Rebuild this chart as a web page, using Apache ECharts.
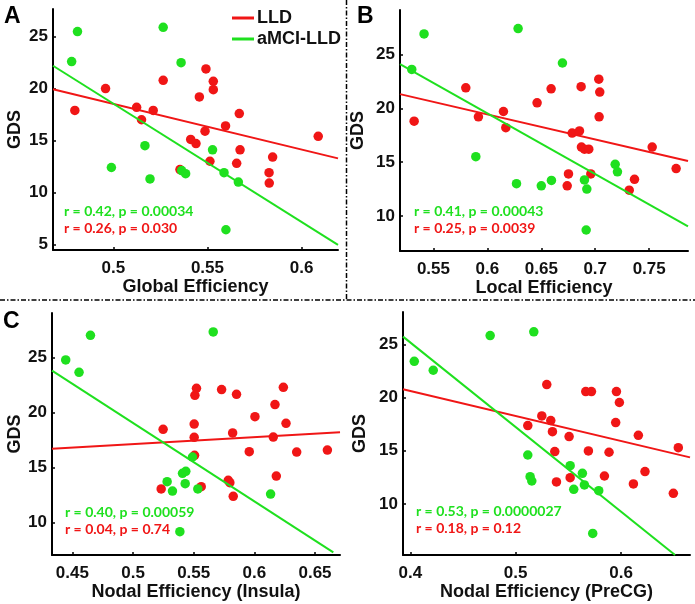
<!DOCTYPE html>
<html><head><meta charset="utf-8">
<script src="https://cdn.jsdelivr.net/npm/echarts@6/dist/echarts.min.js"></script>
<style>html,body{margin:0;padding:0;background:#fff}#c{width:695px;height:604px}</style>
</head><body><div id="c"></div>
<script>
// ---- Panel A: Global Efficiency ----
const A_lldX = [0.4796,0.4959,0.5124,0.515,0.5212,0.5265,0.5354,0.5411,0.5439,0.5457,0.5487,0.5492,0.5531,0.5531,0.5513,0.5596,0.5655,0.5669,0.5673,0.5827,0.5828,0.5846,0.6088];
const A_lldY = [17.9,20.0,18.2,17.0,17.9,20.8,12.2,15.1,14.7,19.2,15.9,21.9,20.7,19.9,13.0,16.4,12.8,17.6,14.1,11.9,10.9,13.4,15.4];
const A_mciX = [0.4779,0.481,0.5265,0.536,0.499,0.5168,0.5195,0.5363,0.5384,0.5527,0.5588,0.5664,0.5598];
const A_mciY = [22.6,25.5,25.9,22.5,12.4,14.5,11.3,12.1,11.8,14.1,11.9,11.0,6.4];
const A_lldFitX = [0.468,0.6193], A_lldFitY = [19.93,13.28];
const A_mciFitX = [0.468,0.6193], A_mciFitY = [22.2,4.94];
const A_xTicks = [0.5,0.55,0.6], A_yTicks = [5,10,15,20,25];

// ---- Panel B: Local Efficiency ----
const B_lldX = [0.5321,0.58,0.5917,0.6149,0.6171,0.6461,0.6591,0.6752,0.674,0.6786,0.6854,0.6869,0.6872,0.690,0.694,0.6959,0.7033,0.7042,0.7036,0.7315,0.7364,0.7528,0.775];
const B_lldY = [18.8,21.9,19.2,19.7,18.2,20.5,21.8,13.9,12.8,17.7,17.9,22.0,16.4,16.2,16.2,13.9,22.7,21.5,19.2,12.4,13.4,16.4,14.4];
const B_mciX = [0.5299,0.5413,0.6285,0.5893,0.627,0.650,0.6594,0.6696,0.690,0.6922,0.6916,0.7185,0.7206];
const B_mciY = [23.6,26.9,27.4,15.5,13.0,12.8,13.3,24.2,13.35,12.5,8.7,14.8,14.1];
const B_lldFitX = [0.519,0.786], B_lldFitY = [21.31,15.11];
const B_mciFitX = [0.519,0.786], B_mciFitY = [24.1,9.04];
const B_xTicks = [0.55,0.6,0.65,0.7,0.75], B_yTicks = [10,15,20,25];

// ---- Panel C: Nodal Efficiency (Insula) ----
const C_lldX = [0.5248,0.5232,0.5504,0.5504,0.5507,0.551,0.5523,0.5562,0.573,0.5785,0.5798,0.5826,0.5821,0.5853,0.6005,0.5958,0.617,0.6156,0.6181,0.6239,0.6261,0.6349,0.6602];
const C_lldY = [18.47,13.06,18.95,17.74,16.11,21.55,22.19,13.27,22.07,13.84,13.63,12.39,18.14,21.64,19.62,16.44,20.71,17.77,14.23,22.28,19.01,16.41,16.59];
const C_mciX = [0.4445,0.4555,0.4649,0.5661,0.5281,0.5325,0.5408,0.5435,0.543,0.549,0.5534,0.6134,0.5386];
const C_mciY = [24.76,23.64,27.0,27.3,13.72,12.87,14.48,14.66,13.54,15.96,13.06,12.6,9.19];
const C_lldFitX = [0.4332,0.6706], C_lldFitY = [16.71,18.2];
const C_mciFitX = [0.4332,0.6651], C_mciFitY = [23.79,7.31];
const C_xTicks = [0.45,0.5,0.55,0.6,0.65], C_yTicks = [10,15,20,25];

// ---- Panel D: Nodal Efficiency (PreCG) ----
const D_lldX = [0.5115,0.5248,0.5295,0.5333,0.5349,0.5371,0.5387,0.5507,0.5517,0.5665,0.5719,0.569,0.5842,0.5886,0.5949,0.5956,0.5984,0.6164,0.6227,0.6117,0.6496,0.6543];
const D_lldY = [17.36,18.27,21.22,17.83,16.79,14.92,12.07,16.33,12.47,20.56,20.56,14.98,12.63,14.86,17.65,20.56,19.53,16.45,13.04,11.88,11.0,15.29];
const D_mciX = [0.4038,0.4218,0.4758,0.5172,0.5115,0.5137,0.5153,0.5517,0.5551,0.5633,0.5652,0.5788,0.5731];
const D_mciY = [23.4,22.56,25.82,26.17,14.6,12.57,12.16,13.6,11.38,12.88,11.79,11.25,7.24];
const D_lldFitX = [0.3931,0.6654], D_lldFitY = [20.77,14.38];
const D_mciFitX = [0.3931,0.6512], D_mciFitY = [25.72,5.21];
const D_xTicks = [0.4,0.5,0.6], D_yTicks = [10,15,20,25];

const xNames = ['Global Efficiency','Local Efficiency','Nodal Efficiency (Insula)','Nodal Efficiency (PreCG)'];
const statsMci = ['r = 0.42, p = 0.00034','r = 0.41, p = 0.00043','r = 0.40, p = 0.00059','r = 0.53, p = 0.0000027'];
const statsLld = ['r = 0.26, p = 0.030','r = 0.25, p = 0.0039','r = 0.04, p = 0.74','r = 0.18, p = 0.12'];
const letters = ['A','B','C',''];

const RED = '#f01616', GREEN = '#1fe01f';
const zip = (xs, ys) => xs.map((x, i) => [x, ys[i]]);

const panels = [
  {lx:A_lldX, ly:A_lldY, mx:A_mciX, my:A_mciY, lfx:A_lldFitX, lfy:A_lldFitY, mfx:A_mciFitX, mfy:A_mciFitY, xt:A_xTicks, yt:A_yTicks,
   xr:[0.468,0.6193], yr:[4.45,27.67], g:{left:53,top:9,width:285,height:241}, yGap:38, txtX:64, txtY:212},
  {lx:B_lldX, ly:B_lldY, mx:B_mciX, my:B_mciY, lfx:B_lldFitX, lfy:B_lldFitY, mfx:B_mciFitX, mfy:B_mciFitY, xt:B_xTicks, yt:B_yTicks,
   xr:[0.519,0.786], yr:[6.75,29.12], g:{left:400,top:10,width:288,height:241}, yGap:42, txtX:414, txtY:212},
  {lx:C_lldX, ly:C_lldY, mx:C_mciX, my:C_mciY, lfx:C_lldFitX, lfy:C_lldFitY, mfx:C_mciFitX, mfy:C_mciFitY, xt:C_xTicks, yt:C_yTicks,
   xr:[0.4332,0.6706], yr:[7.07,29.02], g:{left:52,top:313,width:288,height:242}, yGap:37, txtX:65, txtY:513},
  {lx:D_lldX, ly:D_lldY, mx:D_mciX, my:D_mciY, lfx:D_lldFitX, lfy:D_lldFitY, mfx:D_mciFitX, mfy:D_mciFitY, xt:D_xTicks, yt:D_yTicks,
   xr:[0.3931,0.6654], yr:[5.21,28.03], g:{left:403,top:312,width:287,height:243}, yGap:43, txtX:416, txtY:512}
];

const tickFont = {fontFamily:'Liberation Sans, Arial, sans-serif', fontWeight:'bold', fontSize:17, color:'#111'};
const grid = [], xAxis = [], yAxis = [], series = [], graphic = [];
panels.forEach((p, i) => {
  grid.push(Object.assign({outerBoundsMode:'none', containLabel:false}, p.g));
  xAxis.push({
    type:'value', gridIndex:i, min:p.xr[0], max:p.xr[1],
    name:xNames[i], nameLocation:'middle', nameGap:36,
    nameTextStyle:Object.assign({}, tickFont, {fontSize:18, verticalAlign:'middle'}),
    axisLine:{show:true, onZero:false, lineStyle:{color:'#000', width:2}},
    axisTick:{show:true, inside:true, length:3, customValues:p.xt, lineStyle:{color:'#000', width:1.5}},
    axisLabel:Object.assign({customValues:p.xt, margin:10}, tickFont),
    splitLine:{show:false}
  });
  yAxis.push({
    type:'value', gridIndex:i, min:p.yr[0], max:p.yr[1],
    name:'GDS', nameLocation:'middle', nameGap:p.yGap, nameRotate:90,
    nameTextStyle:Object.assign({}, tickFont, {fontSize:18, verticalAlign:'middle'}),
    axisLine:{show:true, onZero:false, lineStyle:{color:'#000', width:2}},
    axisTick:{show:true, inside:true, length:3, customValues:p.yt, lineStyle:{color:'#000', width:1.5}},
    axisLabel:Object.assign({customValues:p.yt, margin:5}, tickFont),
    splitLine:{show:false}
  });
  series.push({type:'scatter', name:'LLD', xAxisIndex:i, yAxisIndex:i, data:zip(p.lx, p.ly), symbolSize:9.5, itemStyle:{color:RED, opacity:1}, z:2});
  series.push({type:'scatter', name:'aMCI-LLD', xAxisIndex:i, yAxisIndex:i, data:zip(p.mx, p.my), symbolSize:9.5, itemStyle:{color:GREEN, opacity:1}, z:2});
  series.push({type:'line', name:'LLD', xAxisIndex:i, yAxisIndex:i, data:zip(p.lfx, p.lfy), showSymbol:false, lineStyle:{color:RED, width:2}, itemStyle:{color:RED}, z:3});
  series.push({type:'line', name:'aMCI-LLD', xAxisIndex:i, yAxisIndex:i, data:zip(p.mfx, p.mfy), showSymbol:false, lineStyle:{color:GREEN, width:2}, itemStyle:{color:GREEN}, z:3});
  graphic.push({type:'text', left:p.txtX, top:p.txtY - 8, style:{text:statsMci[i], fill:GREEN, font:'bold 14px Lato, "Open Sans", sans-serif'}});
  graphic.push({type:'text', left:p.txtX, top:p.txtY + 9, style:{text:statsLld[i], fill:RED, font:'bold 14px Lato, "Open Sans", sans-serif'}});
});
graphic.push({type:'text', left:4, top:5, style:{text:letters[0], fill:'#000', font:'bold 23px "Liberation Sans", Arial, sans-serif'}});
graphic.push({type:'text', left:357, top:5, style:{text:letters[1], fill:'#000', font:'bold 23px "Liberation Sans", Arial, sans-serif'}});
graphic.push({type:'text', left:3, top:310, style:{text:letters[2], fill:'#000', font:'bold 23px "Liberation Sans", Arial, sans-serif'}});
graphic.push({type:'line', shape:{x1:0, y1:300, x2:695, y2:300}, style:{stroke:'#000', lineWidth:1.5, lineDash:[5,2,1.5,2]}, z:10});
graphic.push({type:'line', shape:{x1:346.5, y1:0, x2:346.5, y2:300}, style:{stroke:'#000', lineWidth:1.5, lineDash:[5,2,1.5,2]}, z:10});

const chart = echarts.init(document.getElementById('c'), null, {renderer:'canvas'});
chart.setOption({
  animation:false,
  backgroundColor:'#fff',
  legend:{
    orient:'vertical', left:227, top:4, itemGap:3, itemWidth:22, itemHeight:3, icon:'rect',
    data:['LLD','aMCI-LLD'],
    textStyle:{fontFamily:'Liberation Sans, Arial, sans-serif', fontWeight:'bold', fontSize:18, color:'#111', padding:[0,0,0,-2]}
  },
  grid, xAxis, yAxis, series, graphic
});
</script></body></html>
